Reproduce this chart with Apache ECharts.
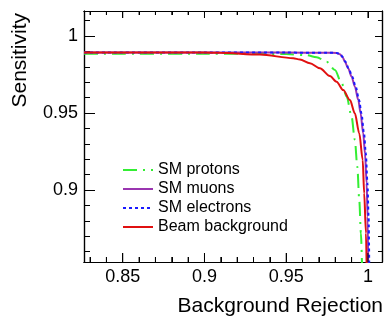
<!DOCTYPE html>
<html>
<head>
<meta charset="utf-8">
<script src="https://cdn.jsdelivr.net/npm/echarts@6/dist/echarts.min.js"></script>
<style>
	html, body { margin: 0; padding: 0; background: #fff; }
	#chart { width: 385px; height: 321px; }
</style>
</head>
<body>
<div id="chart"></div>
<script>
// legend names
let names = ['SM protons', 'SM muons', 'SM electrons', 'Beam background'];

// curves (background rejection, sensitivity)
let protonsX = [0.8263, 0.90, 0.95, 0.9625, 0.9686, 0.9747, 0.9798, 0.9839, 0.9870, 0.9900, 0.9920, 0.9935, 0.9947, 0.9957, 0.9964];
let protonsY = [0.9885, 0.9885, 0.9883, 0.9875, 0.9862, 0.9833, 0.9779, 0.9693, 0.9606, 0.9476, 0.9325, 0.9151, 0.8935, 0.8719, 0.85];

let muonsX = [0.8263, 0.90, 0.95, 0.975, 0.9808, 0.9829, 0.9845, 0.9859, 0.9879, 0.9900, 0.9920, 0.9941, 0.9955, 0.9971, 0.9982, 0.9992, 0.9998, 1.0002];
let muonsY = [0.9892, 0.9892, 0.9892, 0.9891, 0.9890, 0.9881, 0.9862, 0.9833, 0.9790, 0.9736, 0.9671, 0.9584, 0.9498, 0.9368, 0.9238, 0.9044, 0.8827, 0.85];

let electronsX = [0.8263, 0.90, 0.95, 0.975, 0.9810, 0.9831, 0.9847, 0.9862, 0.9882, 0.9904, 0.9925, 0.9946, 0.9960, 0.9976, 0.9987, 0.9997, 1.0004, 1.0008];
let electronsY = [0.9892, 0.9892, 0.9892, 0.9891, 0.9890, 0.9881, 0.9862, 0.9833, 0.9790, 0.9736, 0.9671, 0.9584, 0.9498, 0.9368, 0.9238, 0.9044, 0.8827, 0.85];

let beamX = [0.8263, 0.90, 0.9094, 0.9339, 0.9543, 0.9584, 0.9645, 0.9706, 0.9767, 0.9808, 0.9849, 0.9890, 0.9920, 0.9947, 0.9968, 0.9977, 0.9988, 0.9992];
let beamY = [0.9892, 0.9892, 0.9891, 0.9879, 0.9856, 0.9847, 0.9823, 0.9790, 0.9740, 0.9703, 0.9649, 0.9584, 0.9498, 0.9368, 0.9195, 0.8979, 0.8719, 0.85];

// x tick marks (big ones are labelled)
let xMajorTicks = [0.85, 0.9, 0.95, 1.0];
let xMinorTicks = [0.83, 0.84, 0.86, 0.87, 0.88, 0.89, 0.91, 0.92, 0.93, 0.94, 0.96, 0.97, 0.98, 0.99];

let colors = ['#33ee33', '#9a35b0', '#1a1aff', '#e01010'];
let lineTypes = [[14, 6, 2, 6], 'solid', [3, 3], 'solid'];

let xRange = [0.8263, 1.0086];
let yRange = [0.8533, 1.0162];

function zip(xs, ys) {
	let out = [];
	for (let i = 0; i < xs.length; i++) {
		out.push([xs[i], ys[i]]);
	}
	return out;
}

let curves = [zip(protonsX, protonsY), zip(muonsX, muonsY), zip(electronsX, electronsY), zip(beamX, beamY)];

// [x, y inside the range, big flag]
let tickData = [];
for (let i = 0; i < xMajorTicks.length; i++) tickData.push([xMajorTicks[i], 0.9, 1]);
for (let i = 0; i < xMinorTicks.length; i++) tickData.push([xMinorTicks[i], 0.9, 0]);

let font = 'Liberation Sans, Arial, sans-serif';
let box = { left: 84, top: 11, right: 3, bottom: 59 };

// frame: 4 grids on the same box, each with one x and one y axis
function makeAxis(g, pos, range, step, tickLen, withLabels) {
	return {
		gridIndex: g,
		type: 'value',
		position: pos,
		min: range[0],
		max: range[1],
		minInterval: step,
		maxInterval: step,
		axisLine: { show: true, onZero: false, lineStyle: { color: '#000', width: 1.2 } },
		axisTick: { show: true, inside: true, length: tickLen, lineStyle: { color: '#000', width: 1 } },
		axisLabel: {
			show: withLabels,
			showMinLabel: false,
			showMaxLabel: false,
			color: '#000',
			fontSize: 18,
			fontFamily: font,
			margin: 6
		},
		splitLine: { show: false }
	};
}

let chart = echarts.init(document.getElementById('chart'));

let series = [];
for (let i = 0; i < names.length; i++) {
	series.push({
		name: names[i],
		type: 'line',
		xAxisIndex: 0,
		yAxisIndex: 0,
		data: curves[i],
		showSymbol: false,
		symbol: 'none',
		smooth: 0.3,
		smoothMonotone: 'x',
		animation: false,
		lineStyle: { color: colors[i], width: 2, type: lineTypes[i] },
		itemStyle: { color: colors[i] }
	});
}

// x ticks on bottom and top edge, placed with the axis scale
series.push({
	type: 'custom',
	xAxisIndex: 0,
	yAxisIndex: 0,
	silent: true,
	animation: false,
	clip: false,
	z: 5,
	encode: { x: 0, y: 1 },
	data: tickData,
	renderItem: function(params, api) {
		let v = api.value(0);
		let big = api.value(2) == 1;
		let b = api.coord([v, yRange[0]]);
		let t = api.coord([v, yRange[1]]);
		return {
			type: 'group',
			children: [{
					type: 'line',
					shape: { x1: b[0], y1: b[1], x2: b[0], y2: b[1] - (big ? 9 : 5) },
					style: { stroke: '#000', lineWidth: 1 }
				},
				{
					type: 'line',
					shape: { x1: t[0], y1: t[1], x2: t[0], y2: t[1] + (big ? 7 : 4) },
					style: { stroke: '#000', lineWidth: 1 }
				}
			]
		};
	}
});

let option = {
	animation: false,
	backgroundColor: '#fff',
	grid: [box, box, box, box],
	xAxis: [
		makeAxis(0, 'bottom', xRange, 0.05, 9, true),
		makeAxis(1, 'top', xRange, 0.05, 7, false),
		makeAxis(2, 'bottom', xRange, 0.01, 5, false),
		makeAxis(3, 'top', xRange, 0.01, 4, false)
	],
	yAxis: [
		makeAxis(0, 'left', yRange, 0.05, 11, true),
		makeAxis(1, 'right', yRange, 0.05, 7, false),
		makeAxis(2, 'left', yRange, 0.01, 6, false),
		makeAxis(3, 'right', yRange, 0.01, 4, false)
	],
	legend: {
		orient: 'vertical',
		left: 117,
		top: 157,
		itemWidth: 30,
		itemHeight: 14,
		itemGap: 3,
		data: names,
		itemStyle: { opacity: 0 },
		textStyle: { color: '#000', fontSize: 16, fontFamily: font }
	},
	graphic: [
		{
			type: 'text',
			x: 383,
			y: 306,
			style: { text: 'Background Rejection', fill: '#000', font: '21px ' + font, textAlign: 'right', textVerticalAlign: 'middle' }
		},
		{
			type: 'text',
			x: 20,
			y: 13,
			rotation: Math.PI / 2,
			style: { text: 'Sensitivity', fill: '#000', font: '21px ' + font, textAlign: 'right', textVerticalAlign: 'middle' }
		}
	],
	series: series
};

chart.setOption(option);
</script>
</body>
</html>
